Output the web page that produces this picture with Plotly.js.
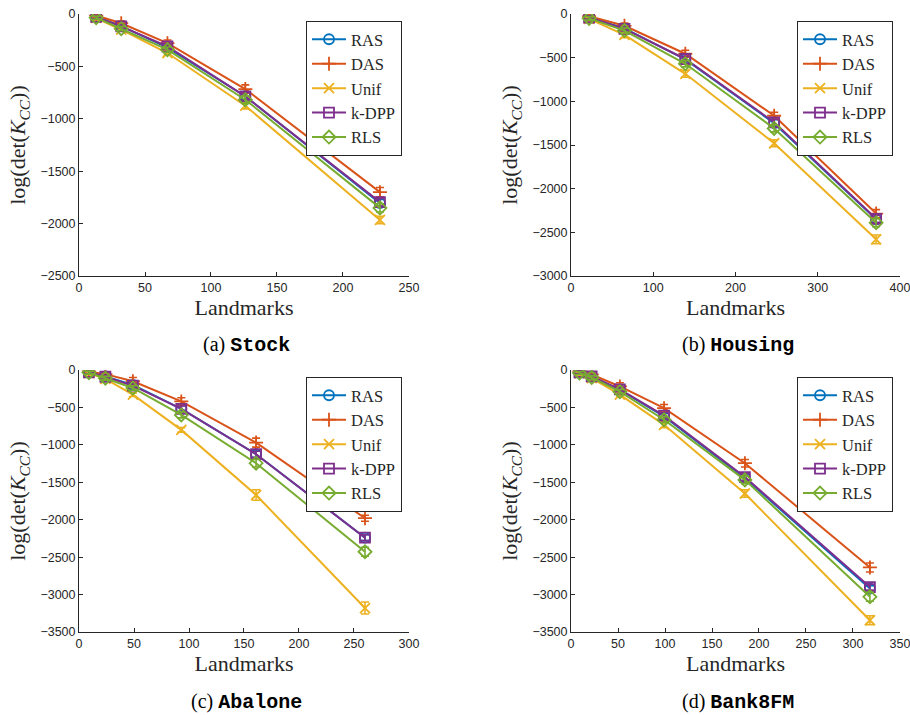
<!DOCTYPE html>
<html>
<head>
<meta charset="utf-8">
<script src="https://cdn.plot.ly/plotly-3.0.1.min.js"></script>
<style>body{margin:0;background:#fff;} #chart{width:910px;height:715px;}</style>
</head>
<body>
<div id="chart"></div>
<script>
// ---------------- data ----------------
const methods = ["RAS", "DAS", "Unif", "k-DPP", "RLS"];
const colors = ["#0072BD", "#D95319", "#EDB120", "#7E2F8E", "#77AC30"];
const symbols = ["circle-open", "cross-thin-open", "x-thin-open", "square-open", "diamond-open"];

// (a) Stock
const stock_x = [13, 32, 67, 126, 228];
const stock_RAS = [-25, -115, -320, -785, -1805];
const stock_DAS = [-15, -88, -278, -716, -1700];
const stock_Unif = [-38, -150, -372, -875, -1965];
const stock_kDPP = [-28, -118, -310, -786, -1795];
const stock_RLS = [-35, -140, -340, -818, -1850];
const stock_RAS_err = [15, 15, 20, 30, 35];
const stock_DAS_err = [15, 20, 30, 40, 45];
const stock_Unif_err = [15, 15, 20, 30, 35];
const stock_kDPP_err = [15, 15, 25, 35, 35];
const stock_RLS_err = [15, 20, 25, 35, 40];

// (b) Housing
const housing_x = [22, 65, 139, 247, 371];
const housing_RAS = [-38, -165, -520, -1250, -2350];
const housing_DAS = [-25, -135, -455, -1165, -2285];
const housing_Unif = [-55, -240, -685, -1480, -2580];
const housing_kDPP = [-40, -170, -515, -1240, -2345];
const housing_RLS = [-50, -190, -570, -1310, -2390];
const housing_RAS_err = [20, 25, 30, 40, 45];
const housing_DAS_err = [20, 30, 40, 40, 45];
const housing_Unif_err = [20, 30, 40, 40, 50];
const housing_kDPP_err = [20, 25, 30, 35, 40];
const housing_RLS_err = [20, 30, 35, 40, 45];

// (c) Abalone
const abalone_x = [9, 24, 49, 93, 161, 260];
const abalone_RAS = [-30, -85, -200, -518, -1125, -2240];
const abalone_DAS = [-20, -55, -150, -420, -970, -1980];
const abalone_Unif = [-40, -120, -330, -800, -1670, -3180];
const abalone_kDPP = [-30, -90, -210, -520, -1125, -2240];
const abalone_RLS = [-35, -110, -240, -600, -1245, -2428];
const abalone_RAS_err = [20, 25, 30, 40, 45, 40];
const abalone_DAS_err = [20, 30, 50, 50, 60, 40];
const abalone_Unif_err = [20, 20, 25, 30, 70, 80];
const abalone_kDPP_err = [20, 25, 30, 40, 40, 40];
const abalone_RLS_err = [20, 25, 30, 40, 50, 60];

// (d) Bank8FM
const bank_x = [9, 22, 52, 99, 185, 318];
const bank_RAS = [-30, -85, -265, -620, -1445, -2920];
const bank_DAS = [-20, -60, -220, -510, -1245, -2638];
const bank_Unif = [-45, -110, -330, -732, -1650, -3343];
const bank_kDPP = [-30, -85, -260, -610, -1430, -2900];
const bank_RLS = [-40, -100, -290, -665, -1468, -3030];
const bank_RAS_err = [20, 25, 30, 40, 50, 40];
const bank_DAS_err = [20, 30, 50, 50, 50, 60];
const bank_Unif_err = [20, 20, 30, 40, 50, 60];
const bank_kDPP_err = [20, 25, 30, 40, 45, 40];
const bank_RLS_err = [20, 25, 30, 40, 50, 60];

// tick labels
const stock_xticks = [0, 50, 100, 150, 200, 250];
const housing_xticks = [0, 100, 200, 300, 400];
const abalone_xticks = [0, 50, 100, 150, 200, 250, 300];
const bank_xticks = [0, 50, 100, 150, 200, 250, 300, 350];

const captions = ["(a) ", "(b) ", "(c) ", "(d) "];
const datasetNames = ["Stock", "Housing", "Abalone", "Bank8FM"];

// ---------------- build ----------------
const panels = [
  {x: stock_x, xt: stock_xticks, ys: [stock_RAS, stock_DAS, stock_Unif, stock_kDPP, stock_RLS],
   es: [stock_RAS_err, stock_DAS_err, stock_Unif_err, stock_kDPP_err, stock_RLS_err]},
  {x: housing_x, xt: housing_xticks, ys: [housing_RAS, housing_DAS, housing_Unif, housing_kDPP, housing_RLS],
   es: [housing_RAS_err, housing_DAS_err, housing_Unif_err, housing_kDPP_err, housing_RLS_err]},
  {x: abalone_x, xt: abalone_xticks, ys: [abalone_RAS, abalone_DAS, abalone_Unif, abalone_kDPP, abalone_RLS],
   es: [abalone_RAS_err, abalone_DAS_err, abalone_Unif_err, abalone_kDPP_err, abalone_RLS_err]},
  {x: bank_x, xt: bank_xticks, ys: [bank_RAS, bank_DAS, bank_Unif, bank_kDPP, bank_RLS],
   es: [bank_RAS_err, bank_DAS_err, bank_Unif_err, bank_kDPP_err, bank_RLS_err]}
];

const W = 910, H = 715;
// pixel boxes of each plot area [left, right, top, bottom]
const boxes = [
  [79, 409, 14, 276],
  [571, 900, 14, 276],
  [79, 409, 370, 632],
  [571, 900, 370, 632]
];
const xRanges = [[0, 250.01], [0, 400.01], [0, 300.01], [0, 350.01]];
const yRanges = [[-2500.01, 0.01], [-3000.01, 0.01], [-3500.01, 0.01], [-3500.01, 0.01]];
// legend boxes top-left in px
const legendPos = [[306, 21], [797, 21], [306, 377], [797, 377]];

const traces = [];
const layout = {
  width: W, height: H,
  margin: {l: 0, r: 0, t: 0, b: 0},
  paper_bgcolor: "#fff", plot_bgcolor: "#fff",
  showlegend: true,
  annotations: []
};

const serif = "Liberation Serif, DejaVu Serif, serif";
const sans = "Liberation Sans, Arial, sans-serif";
const tickFont = {family: sans, size: 12.5, color: "#262626"};

panels.forEach((p, i) => {
  const n = i === 0 ? "" : String(i + 1);
  const legName = "legend" + n;
  p.ys.forEach((y, k) => {
    traces.push({
      type: "scatter", mode: "lines+markers",
      x: p.x, y: y,
      name: methods[k],
      xaxis: "x" + n, yaxis: "y" + n,
      legend: legName,
      line: {color: colors[k], width: 2},
      marker: {symbol: symbols[k], size: 10, color: colors[k], line: {color: colors[k], width: 1.8}},
      error_y: {type: "data", array: p.es[k], visible: true, color: colors[k], thickness: 1.6, width: 4}
    });
  });
  const b = boxes[i];
  const axBase = {
    showline: true, linecolor: "#262626", linewidth: 1,
    ticks: "inside", ticklen: 4, tickcolor: "#262626", tickwidth: 1,
    showgrid: false, zeroline: false, mirror: false,
    ticklabeloverflow: "allow",
    tickfont: tickFont
  };
  layout["xaxis" + n] = Object.assign({}, axBase, {
    domain: [b[0] / W, b[1] / W],
    anchor: "y" + n,
    range: xRanges[i], tickmode: "array", tickvals: p.xt, ticktext: p.xt.map(String),
    title: {text: "Landmarks", font: {family: serif, size: 22, color: "#262626"}, standoff: 2}
  });
  layout["yaxis" + n] = Object.assign({}, axBase, {
    domain: [1 - b[3] / H, 1 - b[2] / H],
    anchor: "x" + n,
    range: yRanges[i], dtick: 500, tick0: 0,
    title: {text: "log(det(<i>K</i><sub><i>CC</i></sub>))", font: {family: serif, size: 22, color: "#262626"}, standoff: 8}
  });
  layout[legName] = {
    x: legendPos[i][0] / W, y: 1 - legendPos[i][1] / H,
    xanchor: "left", yanchor: "top",
    bgcolor: "#fff", bordercolor: "#262626", borderwidth: 1,
    font: {family: serif, size: 16.5, color: "#262626"},
    itemwidth: 34, tracegroupgap: 0
  };
  layout.annotations.push({
    xref: "paper", yref: "paper",
    x: (b[0] + b[1]) / 2 / W + 0.003, y: 1 - (i < 2 ? 345 : 702) / H,
    xanchor: "center", yanchor: "middle", showarrow: false,
    text: captions[i] + "<span style=\"font-family:'Liberation Mono', monospace;font-weight:bold\">" + datasetNames[i] + "</span>",
    font: {family: serif, size: 20, color: "#000"}
  });
});

Plotly.newPlot("chart", traces, layout, {displayModeBar: false, staticPlot: true}).then(gd => {
  // If the last Housing tick label was dropped by the renderer, put it back
  // at its axis value on the Housing x axis.
  const last = housing_xticks[housing_xticks.length - 1];
  let shown = false;
  gd.querySelectorAll("g.x2tick text").forEach(t => {
    if (t.textContent === String(last) && t.getBoundingClientRect().width > 0) shown = true;
  });
  if (!shown) {
    const anns = gd.layout.annotations.slice();
    anns.push({
      xref: "x2", yref: "y2", x: last, y: yRanges[1][0],
      xanchor: "center", yanchor: "top", yshift: -4, showarrow: false,
      text: String(last), font: tickFont
    });
    return Plotly.relayout(gd, {annotations: anns});
  }
});
</script>
</body>
</html>
